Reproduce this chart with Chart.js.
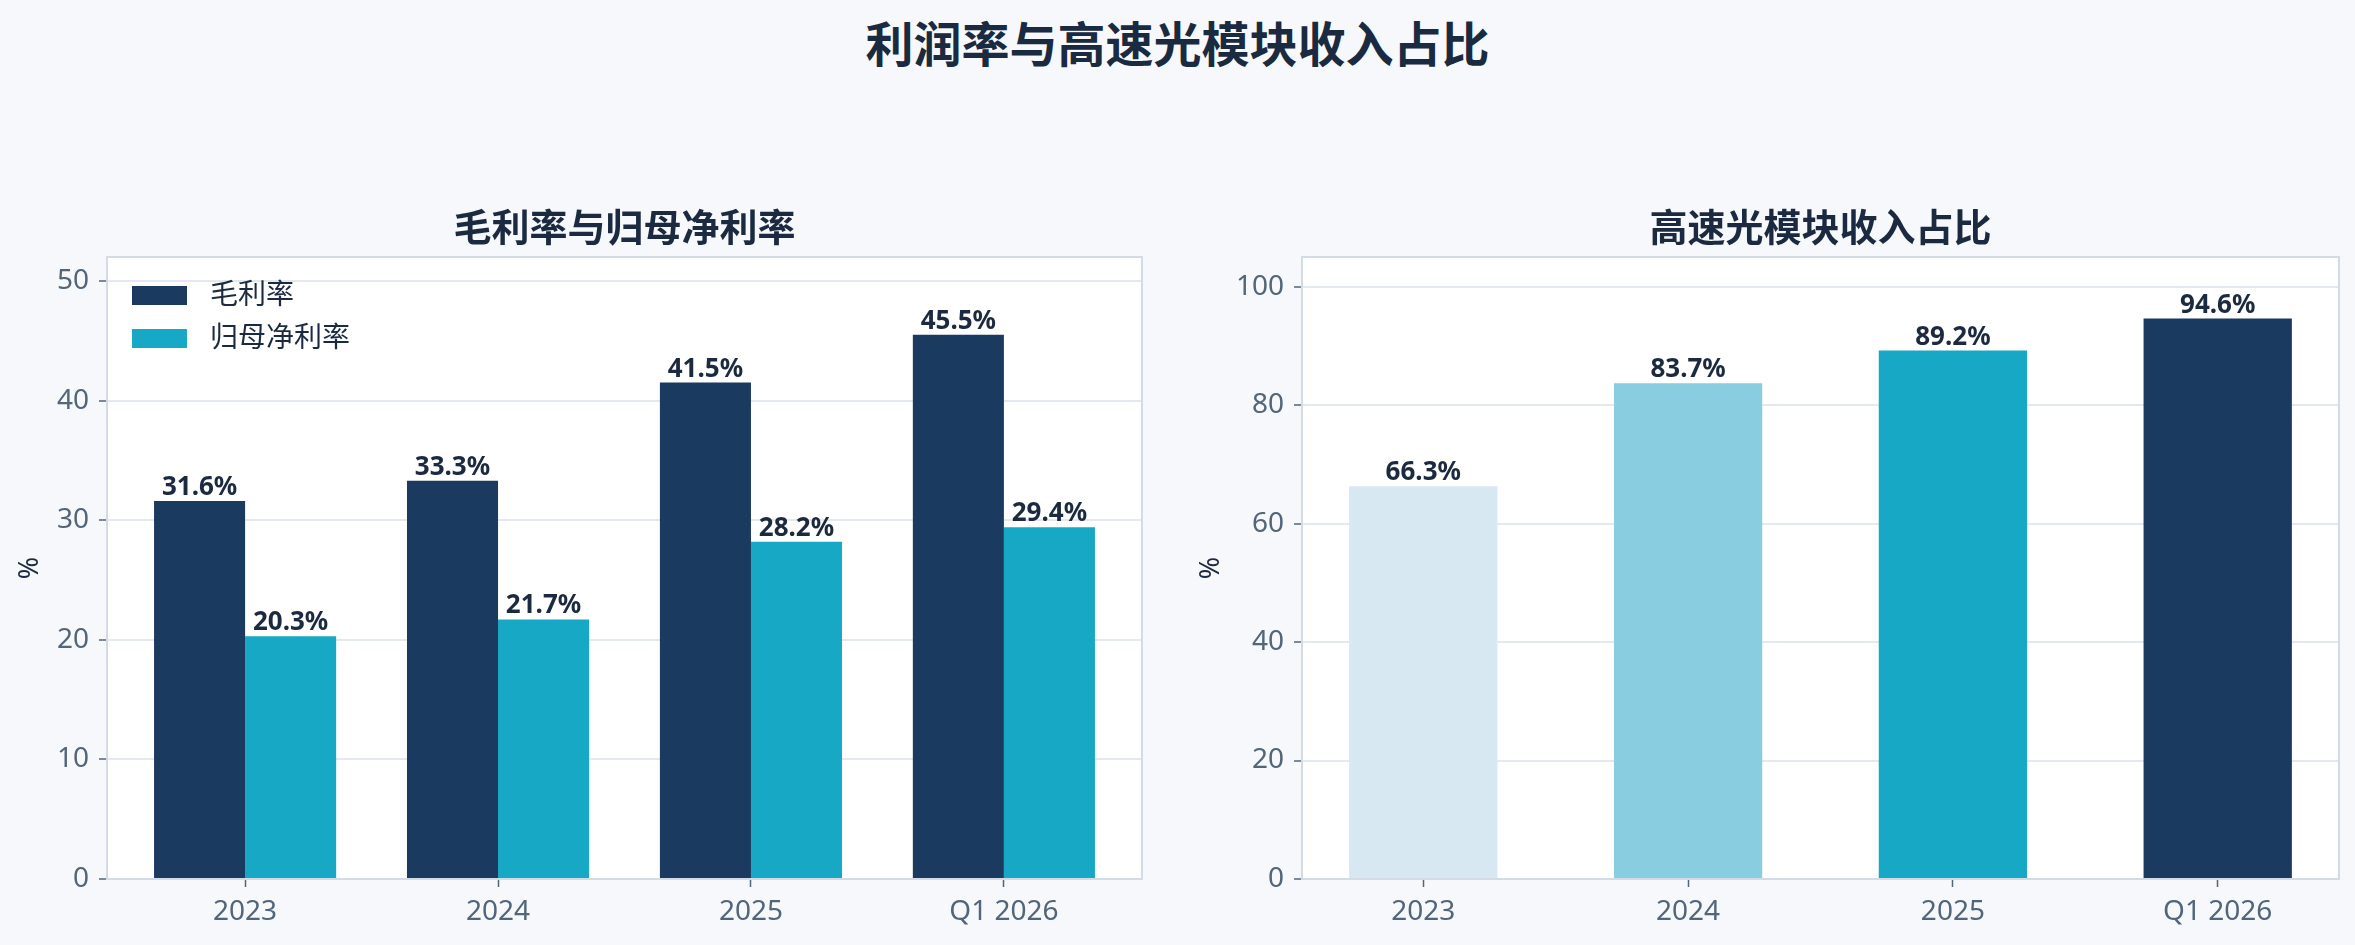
<!DOCTYPE html>
<html lang="zh">
<head>
<meta charset="utf-8">
<title>利润率与高速光模块收入占比</title>
<script src="https://cdn.jsdelivr.net/npm/chart.js@4.4.1/dist/chart.umd.min.js"></script>
<style>
    html, body { margin: 0; padding: 0; background: #f6f8fc; width: 2355px; height: 945px; overflow: hidden; }
    #title { position: absolute; left: 0; top: 17px; width: 2355px; text-align: center;
             font: bold 48px/48px "Noto Sans CJK SC", sans-serif; color: #1a2a40; }
    .box { position: absolute; top: 180px; height: 765px; }
    #leftBox { left: 0; width: 1177px; }
    #rightBox { left: 1177px; width: 1178px; }
</style>
</head>
<body>
<div id="title">利润率与高速光模块收入占比</div>
<div class="box" id="leftBox"><canvas id="marginChart"></canvas></div>
<div class="box" id="rightBox"><canvas id="shareChart"></canvas></div>
<script>
// Chart data
const categories = ['2023', '2024', '2025', 'Q1 2026'];
const grossMargin = [31.6, 33.3, 41.5, 45.5];
const netMargin = [20.3, 21.7, 28.2, 29.4];
const highSpeedShare = [66.3, 83.7, 89.2, 94.6];
const marginTicks = [0, 10, 20, 30, 40, 50];
const shareTicks = [0, 20, 40, 60, 80, 100];

const FONT = '"Noto Sans", "Noto Sans CJK SC", sans-serif';
const TICK_COLOR = '#52657a';
const TEXT_COLOR = '#1b2a41';
Chart.defaults.font.family = FONT;

// White plot background, frame and subplot title centred over the plot area
const plotFrame = {
    id: 'plotFrame',
    beforeDraw(chart) {
        const a = chart.chartArea;
        const ctx = chart.ctx;
        ctx.save();
        ctx.fillStyle = '#ffffff';
        ctx.fillRect(a.left, a.top, a.right - a.left, a.bottom - a.top);
        ctx.font = 'bold 38px ' + FONT;
        ctx.fillStyle = TEXT_COLOR;
        ctx.textAlign = 'center';
        ctx.textBaseline = 'middle';
        ctx.fillText(chart.options.plotTitle, (a.left + a.right) / 2, a.top - 27);
        ctx.restore();
    },
    afterDatasetsDraw(chart) {
        const a = chart.chartArea;
        const ctx = chart.ctx;
        ctx.save();
        ctx.strokeStyle = '#d3dce6';
        ctx.lineWidth = 2;
        ctx.strokeRect(a.left, a.top, a.right - a.left, a.bottom - a.top);
        ctx.restore();
    }
};

// Value labels above every bar
const valueLabels = {
    id: 'valueLabels',
    afterDatasetsDraw(chart) {
        const ctx = chart.ctx;
        ctx.save();
        ctx.font = 'bold 26px ' + FONT;
        ctx.fillStyle = TEXT_COLOR;
        ctx.textAlign = 'center';
        ctx.textBaseline = 'alphabetic';
        chart.data.datasets.forEach((ds, i) => {
            chart.getDatasetMeta(i).data.forEach((bar, j) => {
                ctx.fillText(ds.data[j].y.toFixed(1) + '%', bar.x, bar.y - 6);
            });
        });
        ctx.restore();
    }
};

// Legend drawn inside the plot area, top left
const innerLegend = {
    id: 'innerLegend',
    afterDatasetsDraw(chart) {
        const a = chart.chartArea;
        const ctx = chart.ctx;
        ctx.save();
        ctx.font = '28px ' + FONT;
        ctx.textBaseline = 'middle';
        ctx.textAlign = 'left';
        chart.data.datasets.forEach((ds, i) => {
            const y = a.top + 29 + i * 43;
            ctx.fillStyle = ds.backgroundColor;
            ctx.fillRect(a.left + 25, y, 55, 19);
            ctx.fillStyle = TEXT_COLOR;
            ctx.fillText(ds.label, a.left + 103, y + 10);
        });
        ctx.restore();
    }
};

function toPoints(values) {
    return values.map((v, i) => ({ x: i, y: v }));
}

function buildScales(xMin, xMax, yMax, yTicks, yWidth, titlePad) {
    return {
        x: {
            type: 'linear',
            min: xMin,
            max: xMax,
            offset: false,
            afterBuildTicks: s => { s.ticks = categories.map((c, i) => ({ value: i })); },
            afterFit: s => { s.height = 66; },
            ticks: { callback: v => categories[v], font: { size: 28 }, color: TICK_COLOR, padding: 8, autoSkip: false, maxRotation: 0 },
            grid: { offset: false, drawOnChartArea: false, tickLength: 8, tickColor: TICK_COLOR, tickWidth: 1.5 },
            border: { display: false }
        },
        y: {
            min: 0,
            max: yMax,
            afterBuildTicks: s => { s.ticks = yTicks.map(v => ({ value: v })); },
            afterFit: s => { s.width = yWidth; },
            ticks: { font: { size: 28 }, color: TICK_COLOR, padding: 10 },
            grid: { color: '#e4e9f0', lineWidth: 2, tickLength: 8, tickColor: TICK_COLOR, tickWidth: 1.5 },
            border: { display: false },
            title: { display: true, text: '%', font: { size: 27 }, color: TEXT_COLOR, padding: { top: titlePad, bottom: 0 } }
        }
    };
}

function buildOptions(titleText, scales, rightPad) {
    return {
        responsive: true,
        maintainAspectRatio: false,
        animation: false,
        plotTitle: titleText,
        layout: { padding: { left: 0, right: rightPad, top: 77, bottom: 0 } },
        plugins: {
            legend: { display: false },
            tooltip: { enabled: false }
        },
        scales: scales
    };
}

document.addEventListener('DOMContentLoaded', () => {
    new Chart(document.getElementById('marginChart').getContext('2d'), {
        type: 'bar',
        data: {
            datasets: [{
                label: '毛利率',
                data: toPoints(grossMargin),
                backgroundColor: '#1b3a5f',
                categoryPercentage: 0.72,
                barPercentage: 1
            }, {
                label: '归母净利率',
                data: toPoints(netMargin),
                backgroundColor: '#17a8c6',
                categoryPercentage: 0.72,
                barPercentage: 1
            }]
        },
        options: buildOptions('毛利率与归母净利率', buildScales(-0.546, 3.546, 52, marginTicks, 107, 14), 35),
        plugins: [plotFrame, innerLegend, valueLabels]
    });

    new Chart(document.getElementById('shareChart').getContext('2d'), {
        type: 'bar',
        data: {
            datasets: [{
                label: '高速光模块收入占比',
                data: toPoints(highSpeedShare),
                backgroundColor: ['#d7e8f2', '#89cde0', '#17a8c6', '#1b3a5f'],
                categoryPercentage: 0.56,
                barPercentage: 1
            }]
        },
        options: buildOptions('高速光模块收入占比', buildScales(-0.458, 3.458, 105, shareTicks, 125, 18), 16),
        plugins: [plotFrame, valueLabels]
    });
});
</script>
</body>
</html>
